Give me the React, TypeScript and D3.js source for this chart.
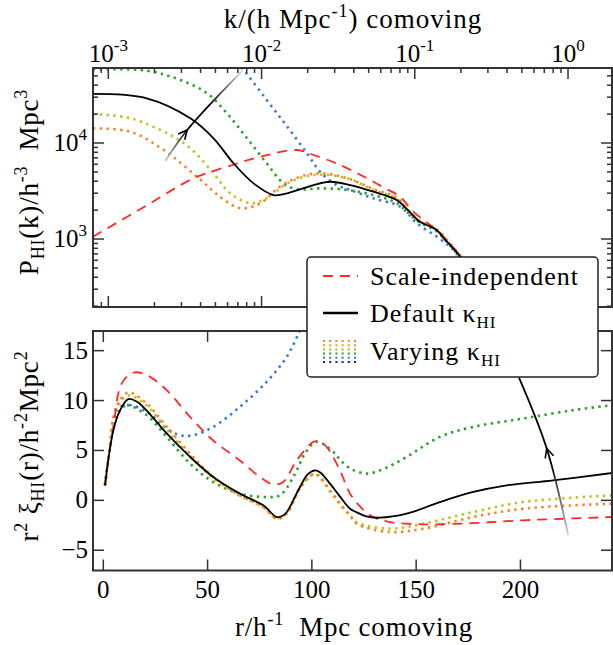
import React from 'react';
import * as d3 from 'd3';

// ---------- tick definitions ----------
const kMajor = [1e-3, 1e-2, 1e-1, 1];
const kMajorExp = ['-3', '-2', '-1', '0'];
const pMajor = [1e3, 1e4];
const pMajorExp = ['3', '4'];
const rTicks = [0, 50, 100, 150, 200];
const xiTicks = [-5, 0, 5, 10, 15];

// ---------- top panel: P_HI(k) ----------
const kDefault = [7.94e-4, 1.78e-3, 3.43e-3, 4.86e-3, 6.56e-3, 8.87e-3, 1.2e-2, 1.47e-2, 2.19e-2, 2.81e-2, 3.79e-2, 5.37e-2, 7.62e-2, 8.91e-2, 0.108, 0.126, 0.139, 0.158, 0.17, 0.198, 0.251, 0.316];
const pDefault = [32400, 29200, 18100, 11200, 6150, 3800, 2870, 2990, 3650, 3950, 3650, 3110, 2550, 2040, 1510, 1350, 1240, 977, 871, 655, 398, 240];

const kScaleIndep = [7.94e-4, 1.78e-3, 3.6e-3, 5.94e-3, 9.82e-3, 1.7e-2, 2.19e-2, 3.26e-2, 5.37e-2, 6.41e-2, 8.04e-2, 9.82e-2, 0.1426, 0.188, 0.251, 0.316];
const pScaleIndep = [1057, 2240, 4290, 5660, 7190, 8450, 7500, 5900, 3950, 3370, 2750, 1920, 1190, 738, 417, 251];

const kOrange = [7.94e-4, 1.39e-3, 2.3e-3, 3.79e-3, 5.37e-3, 7.26e-3, 9.82e-3, 1.32e-2, 1.79e-2, 2.41e-2, 3.63e-2, 5.37e-2, 7.62e-2, 0.1033, 0.139, 0.17, 0.198, 0.251, 0.316];
const pOrange = [14200, 13100, 8450, 4460, 2750, 2090, 2360, 3510, 4460, 4830, 4290, 3310, 2690, 1620, 1260, 891, 676, 398, 240];

const kOlive = [7.94e-4, 1.39e-3, 2.54e-3, 3.43e-3, 4.86e-3, 6.25e-3, 8.43e-3, 1.08e-2, 1.47e-2, 2.19e-2, 3.63e-2, 5.37e-2, 7.62e-2, 0.1033, 0.139, 0.17, 0.198, 0.251, 0.316];
const pOlive = [20000, 18100, 12100, 8810, 4830, 2990, 2360, 2650, 3800, 4650, 4290, 3240, 2630, 1600, 1240, 881, 668, 398, 240];

const kGreen = [7.94e-4, 1.79e-3, 2.95e-3, 4.41e-3, 5.94e-3, 8.04e-3, 1.08e-2, 1.39e-2, 1.7e-2, 2.41e-2, 3.63e-2, 5.37e-2, 7.62e-2, 0.1033, 0.139, 0.17, 0.198, 0.251, 0.316];
const pGreen = [58600, 56600, 45300, 33000, 20400, 11200, 6150, 3800, 3300, 3370, 3240, 2870, 2360, 1550, 1200, 851, 646, 389, 234];

const kBlue = [5.62e-3, 7.64e-3, 1.08e-2, 1.47e-2, 1.98e-2, 2.41e-2, 3.09e-2, 3.79e-2, 5.37e-2, 8.04e-2, 0.1033, 0.139, 0.17, 0.198, 0.251, 0.316];
const pBlue = [100000, 57500, 28100, 14800, 7800, 5020, 3650, 3240, 2650, 2170, 1460, 1060, 832, 631, 380, 229];

// ---------- bottom panel: r^2 xi(r) ----------
const rDefault = [0.8, 4.8, 8, 12, 16, 20.8, 30.4, 41.6, 52.7, 65.5, 76.7, 83.1, 86, 88, 94.3, 98, 101.5, 104, 108.7, 113.4, 118.3, 121.5, 126, 132.6, 145.4, 161.4, 177.4, 193.4, 215.7, 244];
const xiDefault = [1.5, 7.0, 9.0, 10.14, 9.9, 9.0, 6.7, 4.35, 2.34, 0.67, -0.5, -1.67, -1.55, -1.17, 1.34, 2.6, 3.0, 2.8, 1.67, 0.4, -0.84, -1.2, -1.6, -1.74, -1.34, -0.17, 0.84, 1.5, 2.0, 2.74];

const rScaleIndep = [0.8, 4.8, 8.8, 14.4, 20.8, 30.4, 41.6, 52.7, 65.5, 75.1, 81.5, 86.3, 92.7, 100.7, 103.5, 107.1, 113.5, 118.3, 124, 129.4, 137.4, 153.4, 177.4, 201.3, 244];
const xiScaleIndep = [1.5, 7.36, 11.7, 12.8, 12.55, 11.04, 8.36, 6.0, 4.0, 2.34, 1.6, 1.84, 4.0, 5.86, 5.9, 5.35, 3.0, 0.67, -0.8, -1.67, -2.18, -2.4, -2.28, -2.0, -1.67];

const rGreen = [0.8, 3, 6.4, 11.2, 20.8, 30.4, 41.6, 52.7, 65.5, 78.3, 84.7, 91.1, 97, 102.3, 110.3, 113.4, 118.3, 126.3, 135, 145.4, 161.4, 177.4, 201.3, 225.3, 244];
const xiGreen = [1.5, 5.0, 9.04, 9.54, 8.53, 6.36, 3.68, 1.84, 0.67, 0.33, 0.5, 2.34, 4.8, 5.86, 4.85, 4.1, 3.2, 2.68, 3.2, 4.35, 6.36, 7.36, 8.2, 9.04, 9.54];

const rBlue = [0.8, 3, 6.4, 11.2, 20.8, 30.4, 36.8, 43.1, 52.7, 65.5, 78.3, 88, 93.5, 97];
const xiBlue = [1.5, 5.0, 8.5, 9.54, 8.87, 7.2, 6.53, 6.53, 7.36, 9.37, 11.88, 14.4, 16.7, 18.5];

const rOrange = [0.8, 3, 6.4, 12, 20.8, 30.4, 41.6, 52.7, 65.5, 76.7, 83.1, 87.9, 94.3, 101.5, 108.7, 113.4, 118.3, 121.5, 137.4, 153.4, 177.4, 201.3, 244];
const xiOrange = [1.5, 5.2, 9.4, 10.8, 9.7, 7.36, 4.69, 2.34, 0.5, -0.67, -1.84, -1.34, 1.2, 2.68, 1.0, -0.3, -1.5, -2.34, -3.18, -2.84, -1.67, -0.84, -0.33];

const rOlive = [0.8, 3, 6.4, 12, 20.8, 30.4, 41.6, 52.7, 65.5, 76.7, 83.1, 87.9, 94.3, 101.5, 108.7, 113.4, 118.3, 121.5, 137.4, 153.4, 177.4, 201.3, 244];
const xiOlive = [1.5, 5.1, 9.2, 10.5, 9.5, 7.1, 4.45, 2.2, 0.45, -0.7, -1.8, -1.3, 1.25, 2.6, 0.9, -0.4, -1.5, -2.2, -2.84, -2.34, -1.17, -0.17, 0.5];

// ---------- annotation arrows (data coords) ----------
const topArrowK = [0.002355, 0.003273, 0.007482];
const topArrowP = [6494, 13650, 56230];
const botArrowR = [222.9, 212.6, 199.3];
const botArrowXi = [-3.5, 5.2, 12.3];

// ---------- colours ----------
const C_RED = '#ff2a2a';
const C_ORANGE = '#ff8020';
const C_OLIVE = '#c2c020';
const C_GREEN = '#2ea02e';
const C_BLUE = '#3a78d0';
const legendGridColors = ['#ff8020', '#d8a818', '#a8b820', '#2ea02e', '#3a78d0', '#1a1a90'];

const FONT = '"Liberation Serif", "Times New Roman", serif';

const L = 93, R = 612, T1 = 68, B1 = 307, T2 = 331, B2 = 570.5;

export default function App() {
  const xk = d3.scaleLog().domain([10 ** -3.1, 10 ** 0.287]).range([L, R]);
  const yP = d3.scaleLog().domain([10 ** 2.292, 10 ** 4.781]).range([B1, T1]);
  const xr = d3.scaleLinear().domain([-4.94, 243.9]).range([L, R]);
  const yXi = d3.scaleLinear().domain([-7.03, 16.97]).range([B2, T2]);

  const lineTop = d3.line<[number, number]>()
    .x(d => xk(d[0])).y(d => yP(d[1]))
    .curve(d3.curveCatmullRom.alpha(0.5));
  const lineBot = d3.line<[number, number]>()
    .x(d => xr(d[0])).y(d => yXi(d[1]))
    .curve(d3.curveCatmullRom.alpha(0.5));

  const zip = (a: number[], b: number[]) => a.map((v, i) => [v, b[i]] as [number, number]);

  const dotted = { strokeDasharray: '2.4 4.4', strokeWidth: 2.6, fill: 'none' };
  const dashed = { strokeDasharray: '10 7', strokeWidth: 1.8, fill: 'none', stroke: C_RED };

  // log minor ticks
  const kMinor: number[] = [];
  for (let d = -4; d <= 0; d++) for (let m = 2; m <= 9; m++) {
    const v = m * 10 ** d;
    if (v > xk.domain()[0] && v < xk.domain()[1]) kMinor.push(v);
  }
  const pMinor: number[] = [];
  for (let d = 2; d <= 4; d++) for (let m = 2; m <= 9; m++) {
    const v = m * 10 ** d;
    if (v > yP.domain()[0] && v < yP.domain()[1]) pMinor.push(v);
  }

  const tickStroke = { stroke: '#333', strokeWidth: 1.5 };
  const MAJ = 11, MIN = 5;

  // arrows
  const arrowPath = (pts: [number, number][]) =>
    d3.line().curve(d3.curveCatmullRom.alpha(0.5))(pts) as string;
  const topPts: [number, number][] = topArrowK.map((k, i) => [xk(k), yP(topArrowP[i])]);
  const botPts: [number, number][] = botArrowR.map((r, i) => [xr(r), yXi(botArrowXi[i])]);
  const head = (pts: [number, number][]) => {
    const [x, y] = pts[1];
    const dx = pts[2][0] - pts[0][0], dy = pts[2][1] - pts[0][1];
    const a = Math.atan2(dy, dx);
    const len = 10, spread = 0.45;
    const p1 = [x - len * Math.cos(a - spread), y - len * Math.sin(a - spread)];
    const p2 = [x - len * Math.cos(a + spread), y - len * Math.sin(a + spread)];
    return `M${p1[0]},${p1[1]}L${x},${y}L${p2[0]},${p2[1]}`;
  };

  const TICK_FS = 25;
  const supStyle = { fontSize: 17 };

  return (
    <svg width={613} height={645} style={{ display: 'block', position: 'absolute', left: 0, top: 0 }}
      fontFamily={FONT}>
      <defs>
        <clipPath id="clipTop"><rect x={L} y={T1} width={R - L} height={B1 - T1} /></clipPath>
        <clipPath id="clipBot"><rect x={L} y={T2} width={R - L} height={B2 - T2} /></clipPath>
        <linearGradient id="gTop" gradientUnits="userSpaceOnUse"
          x1={topPts[0][0]} y1={topPts[0][1]} x2={topPts[2][0]} y2={topPts[2][1]}>
          <stop offset="0" stopColor="#c8c8c8" />
          <stop offset="0.35" stopColor="#000" />
          <stop offset="0.6" stopColor="#000" />
          <stop offset="1" stopColor="#e0e0e0" />
        </linearGradient>
        <linearGradient id="gBot" gradientUnits="userSpaceOnUse"
          x1={botPts[0][0]} y1={botPts[0][1]} x2={botPts[2][0]} y2={botPts[2][1]}>
          <stop offset="0" stopColor="#d0d0d0" />
          <stop offset="0.45" stopColor="#000" />
          <stop offset="1" stopColor="#000" />
        </linearGradient>
      </defs>
      <rect x={0} y={0} width={613} height={645} fill="#fff" />

      {/* ---- top panel curves ---- */}
      <g clipPath="url(#clipTop)">
        <path d={lineTop(zip(kBlue, pBlue)) as string} stroke={C_BLUE} {...dotted} />
        <path d={lineTop(zip(kGreen, pGreen)) as string} stroke={C_GREEN} {...dotted} />
        <path d={lineTop(zip(kOlive, pOlive)) as string} stroke={C_OLIVE} {...dotted} />
        <path d={lineTop(zip(kOrange, pOrange)) as string} stroke={C_ORANGE} {...dotted} />
        <path d={lineTop(zip(kScaleIndep, pScaleIndep)) as string} {...dashed} />
        <path d={lineTop(zip(kDefault, pDefault)) as string} stroke="#000" strokeWidth={1.8} fill="none" />
        <path d={arrowPath(topPts)} stroke="url(#gTop)" strokeWidth={1.8} fill="none" />
        <path d={head(topPts)} stroke="#000" strokeWidth={1.6} fill="none" />
      </g>

      {/* ---- bottom panel curves ---- */}
      <g clipPath="url(#clipBot)">
        <path d={lineBot(zip(rBlue, xiBlue)) as string} stroke={C_BLUE} {...dotted} />
        <path d={lineBot(zip(rGreen, xiGreen)) as string} stroke={C_GREEN} {...dotted} />
        <path d={lineBot(zip(rOlive, xiOlive)) as string} stroke={C_OLIVE} {...dotted} />
        <path d={lineBot(zip(rOrange, xiOrange)) as string} stroke={C_ORANGE} {...dotted} />
        <path d={lineBot(zip(rScaleIndep, xiScaleIndep)) as string} {...dashed} />
        <path d={lineBot(zip(rDefault, xiDefault)) as string} stroke="#000" strokeWidth={1.8} fill="none" />
        <path d={arrowPath(botPts)} stroke="url(#gBot)" strokeWidth={1.8} fill="none" />
        <path d={head(botPts)} stroke="#000" strokeWidth={1.6} fill="none" />
      </g>

      {/* ---- top panel frame & ticks ---- */}
      <rect x={L} y={T1} width={R - L} height={B1 - T1} fill="none" stroke="#333" strokeWidth={2} />
      {kMajor.map((k, i) => (
        <g key={'km' + i}>
          <line x1={xk(k)} x2={xk(k)} y1={T1} y2={T1 + MAJ} {...tickStroke} />
          <line x1={xk(k)} x2={xk(k)} y1={B1} y2={B1 - MAJ} {...tickStroke} />
          <text x={xk(k)} y={62} fontSize={TICK_FS} textAnchor="middle">
            10<tspan dy={-11} style={supStyle}>{kMajorExp[i]}</tspan>
          </text>
        </g>
      ))}
      {kMinor.map((k, i) => (
        <g key={'kn' + i}>
          <line x1={xk(k)} x2={xk(k)} y1={T1} y2={T1 + MIN} {...tickStroke} />
          <line x1={xk(k)} x2={xk(k)} y1={B1} y2={B1 - MIN} {...tickStroke} />
        </g>
      ))}
      {pMajor.map((p, i) => (
        <g key={'pm' + i}>
          <line x1={L} x2={L + MAJ} y1={yP(p)} y2={yP(p)} {...tickStroke} />
          <line x1={R} x2={R - MAJ} y1={yP(p)} y2={yP(p)} {...tickStroke} />
          <text x={87} y={yP(p) + 8} fontSize={TICK_FS} textAnchor="end">
            10<tspan dy={-11} style={supStyle}>{pMajorExp[i]}</tspan>
          </text>
        </g>
      ))}
      {pMinor.map((p, i) => (
        <g key={'pn' + i}>
          <line x1={L} x2={L + MIN} y1={yP(p)} y2={yP(p)} {...tickStroke} />
          <line x1={R} x2={R - MIN} y1={yP(p)} y2={yP(p)} {...tickStroke} />
        </g>
      ))}

      {/* ---- bottom panel frame & ticks ---- */}
      <rect x={L} y={T2} width={R - L} height={B2 - T2} fill="none" stroke="#333" strokeWidth={2} />
      {rTicks.map((r, i) => (
        <g key={'r' + i}>
          <line x1={xr(r)} x2={xr(r)} y1={B2} y2={B2 - MAJ} {...tickStroke} />
          <line x1={xr(r)} x2={xr(r)} y1={T2} y2={T2 + MAJ} {...tickStroke} />
          <text x={xr(r)} y={598} fontSize={TICK_FS} textAnchor="middle">{r}</text>
        </g>
      ))}
      {xiTicks.map((v, i) => (
        <g key={'xi' + i}>
          <line x1={L} x2={L + MAJ} y1={yXi(v)} y2={yXi(v)} {...tickStroke} />
          <line x1={R} x2={R - MAJ} y1={yXi(v)} y2={yXi(v)} {...tickStroke} />
          <text x={88} y={yXi(v) + 8} fontSize={TICK_FS} textAnchor="end">{v < 0 ? '\u2212' + Math.abs(v) : v}</text>
        </g>
      ))}

      {/* ---- axis titles ---- */}
      <text x={353} y={28} fontSize={27} textAnchor="middle" letterSpacing={1}>
        k/(h Mpc<tspan dy={-11} style={{ fontSize: 18 }}>-1</tspan><tspan dy={11}>) comoving</tspan>
      </text>
      <text x={354} y={636} fontSize={27} textAnchor="middle" letterSpacing={0.8}>
        r/h<tspan dy={-11} style={{ fontSize: 18 }}>-1</tspan><tspan dy={11}>{'\u00a0 Mpc comoving'}</tspan>
      </text>
      <text transform="translate(38,182) rotate(-90)" fontSize={27} textAnchor="middle" letterSpacing={0.8}>
        P<tspan dy={6} style={{ fontSize: 18 }}>HI</tspan><tspan dy={-6}>(k)/h</tspan>
        <tspan dy={-11} style={{ fontSize: 18 }}>-3</tspan><tspan dy={11}>{'\u00a0 Mpc'}</tspan>
        <tspan dy={-11} style={{ fontSize: 18 }}>3</tspan>
      </text>
      <text transform="translate(38,446) rotate(-90)" fontSize={27} textAnchor="middle" letterSpacing={0.8}>
        r<tspan dy={-11} style={{ fontSize: 18 }}>2</tspan><tspan dy={11}>{'\u00a0\u03be'}</tspan>
        <tspan dy={6} style={{ fontSize: 18 }}>HI</tspan><tspan dy={-6}>(r)/h</tspan>
        <tspan dy={-11} style={{ fontSize: 18 }}>-2</tspan><tspan dy={11}>Mpc</tspan>
        <tspan dy={-11} style={{ fontSize: 18 }}>2</tspan>
      </text>

      {/* ---- legend ---- */}
      <g>
        <rect x={307} y={257} width={291} height={120} rx={4} fill="#fff" stroke="#222" strokeWidth={1.5} />
        <line x1={323} x2={358} y1={276} y2={276} {...dashed} />
        <text x={370} y={285} fontSize={26} letterSpacing={1}>Scale-independent</text>
        <line x1={323} x2={358} y1={313} y2={313} stroke="#000" strokeWidth={2.5} />
        <text x={370} y={322} fontSize={26} letterSpacing={1}>
          Default {'\u03ba'}<tspan dy={6} style={{ fontSize: 17 }}>HI</tspan>
        </text>
        {legendGridColors.map((c, i) => (
          <line key={'lg' + i} x1={323} x2={360} y1={341 + i * 4.2} y2={341 + i * 4.2}
            stroke={c} strokeWidth={2} strokeDasharray="2 4.2" />
        ))}
        <text x={370} y={360} fontSize={26} letterSpacing={1}>
          Varying {'\u03ba'}<tspan dy={6} style={{ fontSize: 17 }}>HI</tspan>
        </text>
      </g>
    </svg>
  );
}
